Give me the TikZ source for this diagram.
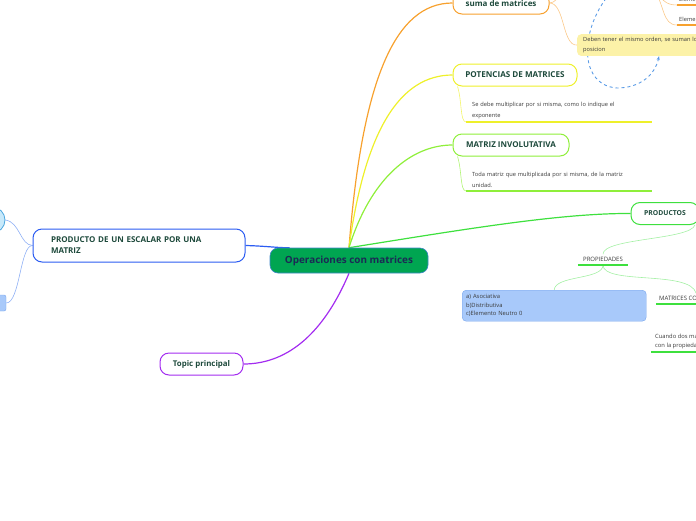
\documentclass[tikz,border=0pt]{standalone}
\usepackage{fontspec}
\setmainfont{Open Sans}
\usetikzlibrary{arrows.meta, positioning, backgrounds}
\definecolor{textdark}{HTML}{1E4A3C}
\definecolor{navytext}{HTML}{1B2A55}
\definecolor{notetext}{HTML}{3A3A3A}
\definecolor{centralfill}{HTML}{00A551}
\definecolor{centralline}{HTML}{3F86C8}
\definecolor{orangebr}{HTML}{F7A12E}
\definecolor{orangelt}{HTML}{FBC98A}
\definecolor{yellowbr}{HTML}{EEF02A}
\definecolor{limebr}{HTML}{8FEF3A}
\definecolor{greenbr}{HTML}{3EE03E}
\definecolor{greenlt}{HTML}{A4F0A4}
\definecolor{bluebr}{HTML}{2B5CF2}
\definecolor{bluelt}{HTML}{8FB0F5}
\definecolor{purplebr}{HTML}{A32CF0}
\definecolor{notefill}{HTML}{FCF2A8}
\definecolor{propfill}{HTML}{A8C9FA}
\definecolor{propline}{HTML}{78A6EE}
\definecolor{dashblue}{HTML}{5A9BE6}
\definecolor{circfill}{HTML}{C8E9FA}
\definecolor{circline}{HTML}{4AA6DE}

\begin{document}
\begin{tikzpicture}[
        x=1pt, y=-1pt,
        central/.style={rectangle, rounded corners=8pt, fill=centralfill,
                        draw=centralline, line width=0.6pt,
                        minimum width=158pt, minimum height=25pt,
                        text=navytext, font=\fontsize{9.9}{12}\selectfont\bfseries},
        topic/.style={rectangle, rounded corners=9pt, draw, line width=1pt,
                      fill=white, minimum height=22pt, inner xsep=8pt,
                      text=textdark, font=\fontsize{8}{11}\selectfont\bfseries},
        note/.style={align=left, inner xsep=6pt, inner ysep=3pt, text=notetext,
                     font=\fontsize{5.7}{11}\selectfont},
        branch/.style={line width=1.2pt},
        twig/.style={line width=0.6pt},
        uline/.style={line width=1.5pt},
    ]
        \clip (0,0) rectangle (696,520);

        % main topics
        \node[central] (ops) at (349,260.5) {Operaciones con matrices};
        \node[topic, draw=orangebr, minimum width=96pt] (suma) at (501,3) {suma de matrices};
        \node[topic, draw=yellowbr, minimum width=124pt,
              font=\fontsize{8.1}{10}\selectfont\bfseries] (potencias) at (515,75) {POTENCIAS DE MATRICES};
        \node[topic, draw=limebr, minimum width=116pt] (involut) at (511,145) {MATRIZ INVOLUTATIVA};
        \node[topic, draw=greenbr, minimum width=68pt,
              font=\fontsize{6.8}{10}\selectfont\bfseries] (productos) at (665,213.5) {PRODUCTOS};
        \node[topic, draw=bluebr, minimum width=212pt, minimum height=33pt,
              text width=176pt, align=left] (escalar) at (139,245.5) {PRODUCTO DE UN ESCALAR POR UNA\\MATRIZ};
        \node[topic, draw=purplebr, minimum width=83pt,
              font=\fontsize{7.9}{10}\selectfont\bfseries] (principal) at (201.5,364) {Topic principal};

        % notes and subtopics
        \node[note, fill=notefill, rounded corners=4pt, anchor=north west,
              text width=150pt, font=\fontsize{5.7}{10}\selectfont] (sumnote) at (577,34)
              {Deben tener el mismo orden, se suman los\\posicion};
        \node[note, anchor=south west, inner xsep=2pt] (elem1) at (677,5) {Elemento};
        \node[note, anchor=south west, inner xsep=2pt] (elem2) at (677,25) {Elemento};
        \node[note, anchor=south west, text width=174pt] (potnote) at (466,122)
              {Se debe multiplicar por si misma, como lo indique el\\exponente};
        \node[note, anchor=south west, text width=174pt] (involnote) at (466,191)
              {Toda matriz que multiplicada por si misma, de la matriz\\unidad.};
        \node[note, anchor=south, inner xsep=0pt, minimum width=50pt,
              font=\fontsize{6}{7}\selectfont] (propied) at (603,265) {PROPIEDADES};
        \node[note, fill=propfill, draw=propline, rounded corners=4pt, anchor=north west,
              text width=176pt, minimum height=31pt, inner xsep=4pt,
              font=\fontsize{5.8}{8.5}\selectfont] (props) at (462,290)
              {a) Asociativa\\b)Distributiva\\c)Elemento Neutro 0};
        \node[note, anchor=south west, inner xsep=3pt,
              font=\fontsize{6}{7}\selectfont] (matcon) at (656,304) {MATRICES CONMUTATIVAS};
        \node[note, anchor=south west, inner xsep=4pt,
              font=\fontsize{5.8}{9}\selectfont] (cuando) at (651,352) {Cuando dos matrices\\con la propiedad};
        \node[circle, fill=circfill, draw=circline, line width=0.8pt, minimum size=26pt] (escA) at (-8,220) {};
        \node[rectangle, rounded corners=2pt, fill=propfill, draw=propline,
              minimum width=16pt, minimum height=16pt] (escB) at (-2,303) {};

        \coordinate (sumaup) at (585,-25);
        \coordinate (elemhub) at (652,-15);
        \coordinate (relstart) at (618,-15);

        % underlines
        \draw[uline, orangebr] (elem1.south west) -- (elem1.south east);
        \draw[uline, orangebr] (elem2.south west) -- (elem2.south east);
        \draw[uline, yellowbr] (potnote.south west) -- (potnote.south east);
        \draw[uline, limebr] (involnote.south west) -- (involnote.south east);
        \draw[uline, greenbr] (propied.south west) -- (propied.south east);
        \draw[uline, greenbr] (matcon.south west) -- (matcon.south east);
        \draw[uline, greenbr] (cuando.south west) -- (cuando.south east);

        \begin{scope}[on background layer]
        \draw[branch, orangebr] (ops.north) .. controls (362,80) and (395,3) .. (suma.west);
        \draw[branch, yellowbr] (ops.north) .. controls (365,130) and (400,75) .. (potencias.west);
        \draw[branch, limebr] (ops.north) .. controls (370,180) and (410,145) .. (involut.west);
        \draw[branch, greenbr] (ops.north) .. controls (460,230) and (560,213) .. (productos.west);
        \draw[branch, bluebr] (escalar.east) .. controls (265,246) and (280,248) .. ([xshift=20pt]ops.north west);
        \draw[branch, purplebr] (ops.south) .. controls (325,330) and (290,364) .. (principal.east);

        \draw[twig, orangelt] (suma.east) .. controls (560,3) and (565,-20) .. (sumaup);
        \draw[twig, orangelt] (suma.east) .. controls (565,3) and (562,46) .. (sumnote.west);
        \draw[twig, orangelt] (elemhub) .. controls (662,0) and (665,5) .. (elem1.south west);
        \draw[twig, orangelt] (elemhub) .. controls (665,5) and (662,25) .. (elem2.south west);
        \draw[twig, yellowbr!70] ([xshift=5pt]potencias.south west) .. controls (462,100) and (460,122) .. (potnote.south west);
        \draw[twig, limebr!70] ([xshift=5pt]involut.south west) .. controls (462,170) and (460,191) .. (involnote.south west);
        \draw[twig, greenlt] ([xshift=30pt]productos.south) .. controls (690,240) and (603,238) .. (propied.north);
        \draw[twig, greenlt] (propied.south) .. controls (603,280) and (555,275) .. (props.north);
        \draw[twig, greenlt] (propied.south) .. controls (603,285) and (690,270) .. (matcon.north);
        \draw[twig, bluelt] (escalar.west) .. controls (20,245) and (20,222) .. (escA.east);
        \draw[twig, bluelt] (escalar.west) .. controls (20,245) and (20,303) .. (escB.east);

        \draw[dashed, dashblue, line width=0.9pt, -{Stealth[length=4pt]}]
            (relstart) .. controls (580,20) and (575,85) .. (617,88)
            .. controls (640,88) and (655,75) .. ([xshift=82pt]sumnote.south west);
        \end{scope}
\end{tikzpicture}
\end{document}
